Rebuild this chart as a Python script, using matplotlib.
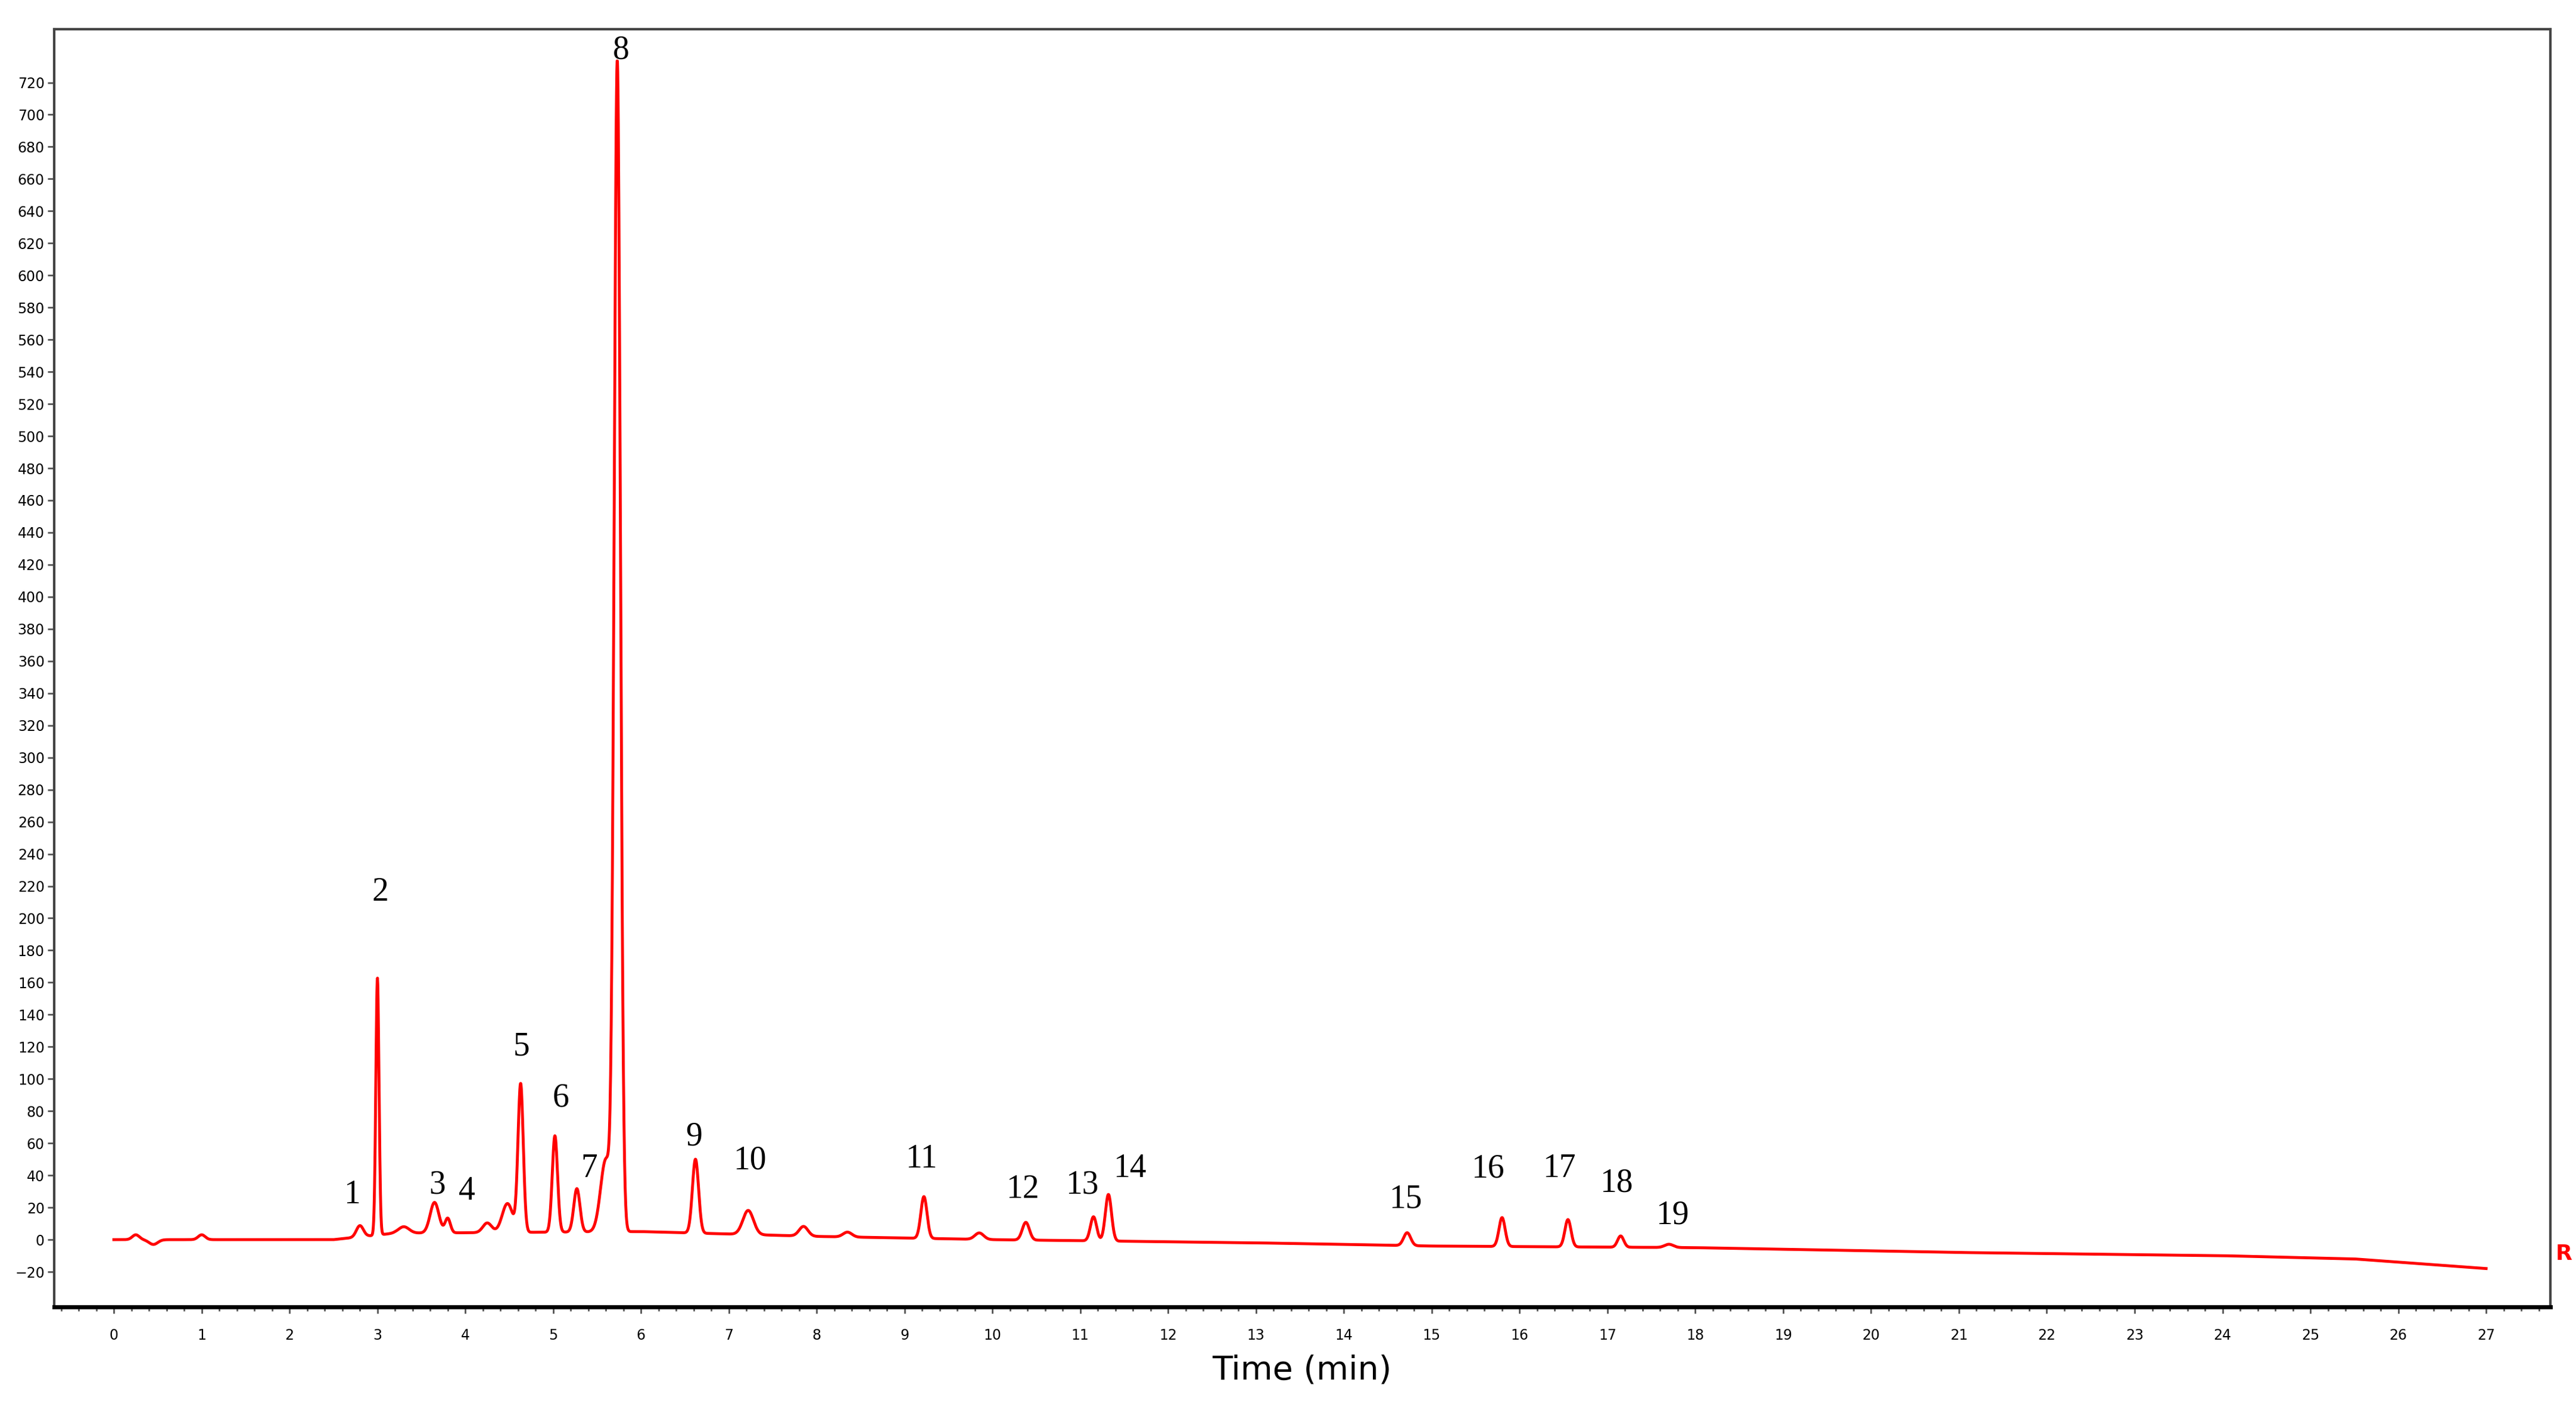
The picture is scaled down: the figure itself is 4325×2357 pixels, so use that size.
import numpy as np
import matplotlib
matplotlib.use('Agg')
import matplotlib.pyplot as plt
from matplotlib.ticker import MultipleLocator
from matplotlib.transforms import blended_transform_factory

# ==================== 数据 ====================
# 峰：保留时间 (min)、峰高、峰宽 (sigma, min)
peak_time   = [0.25, 0.45, 1.0, 2.8, 3.0, 3.3, 3.65, 3.8, 4.25, 4.48, 4.63, 5.02, 5.27,
               5.6, 5.73, 6.62, 7.22, 7.85, 8.35, 9.22, 9.85, 10.38, 11.15, 11.32,
               14.72, 15.8, 16.55, 17.15, 17.7]
peak_height = [3, -3, 3, 7, 160, 4, 19, 9, 6, 18, 92, 60, 27,
               45, 725, 46, 15, 6, 3, 26, 4, 11, 15, 29,
               8, 18, 17, 7, 2]
peak_width  = [0.04, 0.05, 0.04, 0.04, 0.018, 0.06, 0.05, 0.03, 0.05, 0.06, 0.03, 0.03, 0.035,
               0.06, 0.035, 0.035, 0.06, 0.05, 0.05, 0.035, 0.05, 0.04, 0.035, 0.035,
               0.04, 0.035, 0.035, 0.035, 0.05]

# 基线
base_time  = [0, 2.5, 3.2, 6.0, 8.0, 10.0, 13.0, 15.0, 18.0, 21.0, 24.0, 25.5, 27.0]
base_value = [0, 0, 4, 5, 2, 0, -2, -4, -5, -8, -10, -12, -18]

label_text = [str(i) for i in range(1, 20)]
label_x = [2.71, 3.03, 3.68, 4.02, 4.64, 5.09, 5.41, 5.77, 6.60, 7.24, 9.19, 10.34,
           11.02, 11.56, 14.70, 15.64, 16.45, 17.10, 17.74]
label_y = [28, 216, 34, 30, 120, 88, 44, 740, 64, 49, 50, 31, 34, 44, 25, 44, 44, 35, 15]

# ==================== 信号曲线 ====================
t = np.linspace(0, 27, 8000)
signal = np.interp(t, base_time, base_value)
for t0, h, w in zip(peak_time, peak_height, peak_width):
    signal += h * np.exp(-0.5 * ((t - t0) / w) ** 2)

fig = plt.figure(figsize=(43.25, 23.57), dpi=100)
ax = fig.add_axes([0.021, 0.069, 0.969, 0.910])
ax.plot(t, signal, color='#ff0000', linewidth=3.5)

ax.set_xlim(-0.68, 27.73)
ax.set_ylim(-42, 753)
ax.xaxis.set_major_locator(MultipleLocator(1))
ax.xaxis.set_minor_locator(MultipleLocator(0.2))
ax.set_xticks(np.arange(0, 28, 1))
ax.set_yticks(np.arange(-20, 721, 20))
ax.tick_params(axis='both', which='major', labelsize=17, length=8, width=2, color='#555555')
ax.tick_params(axis='x', which='minor', length=5, width=2, color='#555555')
ax.tick_params(axis='x', pad=18)
for s in ax.spines.values():
    s.set_linewidth(3)
    s.set_color('#444444')
ax.spines['bottom'].set_color('black')
ax.spines['bottom'].set_linewidth(5)

ax.set_xlabel('Time (min)', fontsize=40, labelpad=14)

for txt, x, y in zip(label_text, label_x, label_y):
    ax.text(x, y, txt, fontsize=40, family='Liberation Serif', ha='center', va='center')

trans = blended_transform_factory(ax.transAxes, ax.transData)
ax.text(1.002, -9, 'R', transform=trans, color='#ff0000', fontsize=26,
        fontweight='bold', ha='left', va='center')

fig.savefig('out.png', dpi=100, facecolor='white')
